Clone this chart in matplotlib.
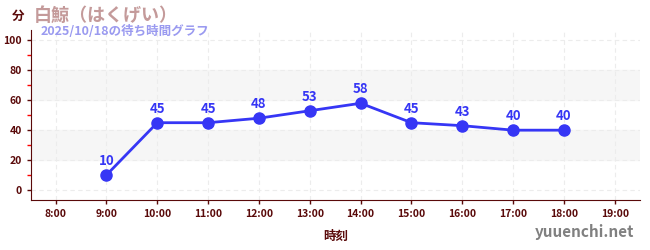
import matplotlib
matplotlib.use("Agg")
import matplotlib.pyplot as plt
from matplotlib.ticker import MultipleLocator

plt.rcParams['font.family'] = ['Noto Sans CJK JP', 'DejaVu Sans']

hours = [9, 10, 11, 12, 13, 14, 15, 16, 17, 18]
waits = [10, 45, 45, 48, 53, 58, 45, 43, 40, 40]
tick_hours = list(range(8, 20))
tick_labels = ["%d:00" % h for h in tick_hours]

dark = "#5a0a0a"
blue = "#3636f5"

fig = plt.figure(figsize=(6.5, 2.5), dpi=100)
ax = fig.add_axes([0.048, 0.2, 0.937, 0.68])

ax.axhspan(20, 40, color="#f6f6f6", zorder=0)
ax.axhspan(60, 80, color="#f6f6f6", zorder=0)

ax.plot(hours, waits, color=blue, lw=2, marker="o", ms=8, zorder=3)
for h, w in zip(hours, waits):
    ax.annotate(str(w), (h, w), xytext=(0, 5), textcoords="offset points",
                ha="center", va="bottom", color=blue, fontsize=9.5, fontweight="bold")

ax.set_xlim(7.52, 19.5)
ax.set_ylim(-6.7, 107)
ax.set_xticks(tick_hours)
ax.set_xticklabels(tick_labels)
ax.set_yticks([0, 20, 40, 60, 80, 100])
ax.yaxis.set_minor_locator(MultipleLocator(10))
ax.tick_params(axis="both", which="major", colors=dark, labelsize=7.5, length=3, width=1)
ax.tick_params(axis="y", which="minor", colors="red", length=3, width=1)
for lab in ax.get_xticklabels() + ax.get_yticklabels():
    lab.set_fontweight("bold")
    lab.set_color(dark)

ax.grid(True, which="major", color="#ececec", ls=(0, (4, 3)), lw=0.8)
ax.set_axisbelow(True)
for s in ["top", "right"]:
    ax.spines[s].set_visible(False)
ax.spines["left"].set_color(dark)
ax.spines["bottom"].set_color(dark)

ax.set_xlabel("時刻", color=dark, fontsize=9, fontweight="bold", labelpad=8)

fig.text(0.018, 0.935, "分", color=dark, fontsize=9, fontweight="bold", va="center")
fig.text(0.052, 0.94, "白鯨（はくげい）", color="#c49a9a", fontsize=13, fontweight="bold", va="center")
fig.text(0.062, 0.875, "2025/10/18の待ち時間グラフ", color="#9a9af0", fontsize=9, fontweight="bold", va="center")
fig.text(0.975, 0.07, "yuuenchi.net", color="#808080", fontsize=11, fontweight="bold", ha="right", va="center")

fig.savefig("out.png")
